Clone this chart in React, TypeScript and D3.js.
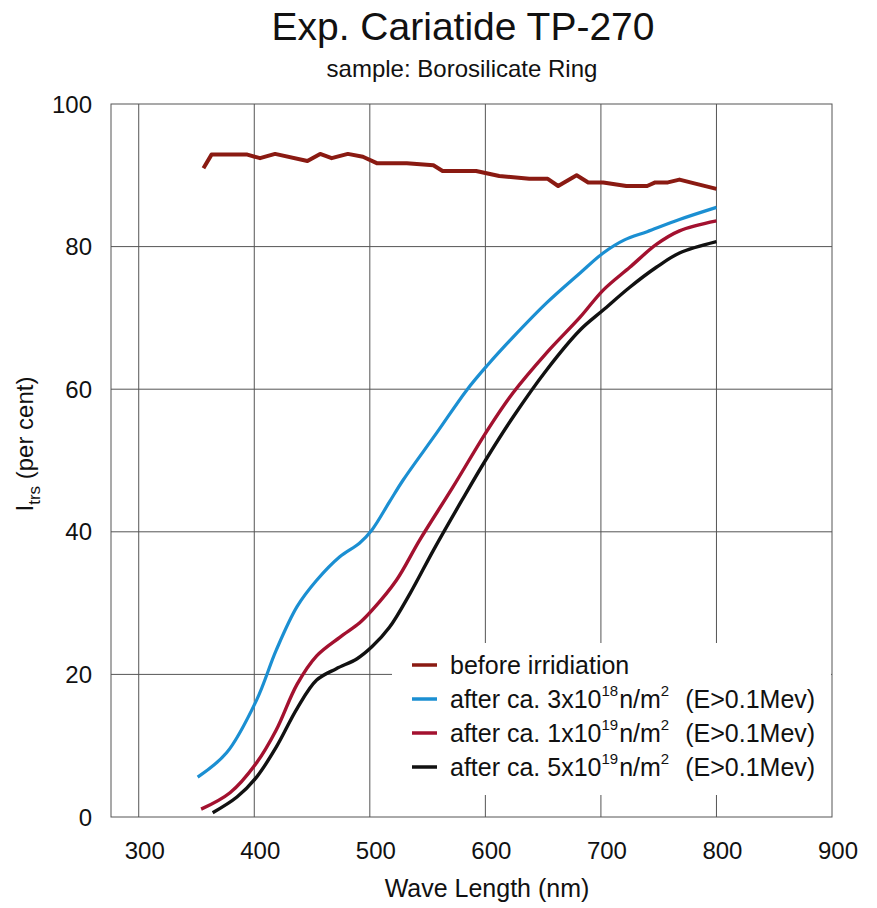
import React, { useEffect, useRef } from "react"
import * as d3 from "d3"

// wavelengths (nm) and transmission (%)
const beforeWave = [356, 363, 394, 405, 418, 446, 457, 467, 481, 494, 506, 532, 555, 563, 592, 612, 638, 654, 663, 679, 689, 702, 722, 740, 747, 758, 768, 780, 800]
const beforeVals = [91.0, 92.9, 92.9, 92.4, 93.0, 92.0, 93.0, 92.4, 93.0, 92.6, 91.7, 91.7, 91.4, 90.6, 90.6, 89.9, 89.5, 89.5, 88.5, 90.0, 89.0, 89.0, 88.5, 88.5, 89.0, 89.0, 89.4, 88.9, 88.1]

const dose18Wave = [351, 376, 402, 419, 437, 454, 474, 491, 502, 517, 529, 558, 584, 602, 624, 653, 682, 702, 720, 740, 768, 800]
const dose18Vals = [5.6, 9.0, 16.4, 23.4, 29.5, 33.2, 36.5, 38.4, 40.3, 44.2, 47.3, 53.9, 59.9, 63.4, 67.3, 72.1, 76.3, 79.1, 80.9, 82.1, 83.8, 85.5]

const dose19Wave = [354, 379, 402, 419, 437, 454, 474, 491, 502, 523, 543, 572, 602, 624, 653, 682, 702, 725, 748, 768, 800]
const dose19Vals = [1.1, 3.4, 7.6, 12.2, 18.6, 22.6, 25.2, 27.2, 29.0, 33.2, 38.8, 46.3, 54.3, 59.5, 65.1, 70.1, 73.9, 77.1, 80.3, 82.2, 83.6]

const dose5e19Wave = [364, 385, 402, 419, 437, 454, 471, 489, 502, 517, 535, 555, 580, 600, 624, 653, 682, 702, 725, 748, 768, 800]
const dose5e19Vals = [0.6, 2.8, 5.6, 9.8, 15.2, 19.2, 20.8, 22.2, 23.9, 26.6, 31.4, 37.4, 44.5, 50.0, 56.1, 62.7, 68.3, 71.1, 74.3, 77.1, 79.1, 80.7]

const xTicks = [300, 400, 500, 600, 700, 800, 900]
const yTicks = [0, 20, 40, 60, 80, 100]

const legendNames = ["before irridiation", "3x10|18", "1x10|19", "5x10|19"]
const legendColors = ["#8a1a12", "#1b8fd2", "#a3112f", "#111111"]

const W = 877, H = 908
const font = "'Liberation Sans', Arial, sans-serif"

export default function App() {
  const ref = useRef<SVGSVGElement>(null)

  useEffect(() => {
    const svg = d3.select(ref.current)
    svg.selectAll("*").remove()

    const x = d3.scaleLinear().domain([276, 900]).range([111, 832])
    const y = d3.scaleLinear().domain([0, 100]).range([817, 104])

    svg.append("rect").attr("width", W).attr("height", H).attr("fill", "#fff")

    // title
    svg.append("text").attr("x", 463).attr("y", 40).attr("text-anchor", "middle")
      .attr("font-size", 39).attr("font-family", font).attr("fill", "#111")
      .text("Exp. Cariatide TP-270")
    svg.append("text").attr("x", 462).attr("y", 77).attr("text-anchor", "middle")
      .attr("font-size", 24).attr("font-family", font).attr("fill", "#111")
      .text("sample: Borosilicate Ring")

    // grid
    const g = svg.append("g").attr("stroke", "#555").attr("stroke-width", 1).attr("fill", "none")
    xTicks.filter(d => d < 900).forEach(d => {
      g.append("line").attr("x1", x(d)).attr("x2", x(d)).attr("y1", y(100)).attr("y2", y(0))
    })
    yTicks.filter(d => d > 0 && d < 100).forEach(d => {
      g.append("line").attr("x1", x(276)).attr("x2", x(900)).attr("y1", y(d)).attr("y2", y(d))
    })
    g.append("rect").attr("x", x(276)).attr("y", y(100))
      .attr("width", x(900) - x(276)).attr("height", y(0) - y(100))

    // tick labels
    svg.append("g").selectAll("text").data(yTicks).join("text")
      .attr("x", 92).attr("y", d => y(d)).attr("dy", "0.36em").attr("text-anchor", "end")
      .attr("font-size", 24).attr("font-family", font).attr("fill", "#111")
      .text(d => d)
    svg.append("g").selectAll("text").data(xTicks).join("text")
      .attr("x", d => x(d) + 6).attr("y", 859).attr("text-anchor", "middle")
      .attr("font-size", 24).attr("font-family", font).attr("fill", "#111")
      .text(d => d)

    // axis titles
    svg.append("text").attr("x", 487).attr("y", 897).attr("text-anchor", "middle")
      .attr("font-size", 25).attr("font-family", font).attr("fill", "#111")
      .text("Wave Length (nm)")
    const yl = svg.append("text").attr("transform", "translate(33,444) rotate(-90)")
      .attr("text-anchor", "middle").attr("font-size", 24).attr("font-family", font).attr("fill", "#111")
    yl.append("tspan").text("I")
    yl.append("tspan").attr("font-size", 17).attr("dy", 7).text("trs")
    yl.append("tspan").attr("dy", -7).text(" (per cent)")

    // legend box (covers grid)
    svg.append("rect").attr("x", 392).attr("y", 643).attr("width", 439).attr("height", 152).attr("fill", "#fff")

    // curves
    const series = [
      { w: beforeWave, v: beforeVals, c: legendColors[0], sw: 4, curve: d3.curveLinear },
      { w: dose18Wave, v: dose18Vals, c: legendColors[1], sw: 3.2, curve: d3.curveCatmullRom },
      { w: dose19Wave, v: dose19Vals, c: legendColors[2], sw: 3.4, curve: d3.curveCatmullRom },
      { w: dose5e19Wave, v: dose5e19Vals, c: legendColors[3], sw: 3.4, curve: d3.curveCatmullRom },
    ]
    series.forEach(s => {
      const line = d3.line<number>().x(d => x(d)).y((d, i) => y(s.v[i])).curve(s.curve)
      svg.append("path").attr("d", line(s.w)).attr("fill", "none")
        .attr("stroke", s.c).attr("stroke-width", s.sw).attr("stroke-linejoin", "round")
    })

    // legend entries
    legendNames.forEach((name, i) => {
      const yy = 665 + i * 34
      svg.append("line").attr("x1", 412).attr("x2", 437).attr("y1", yy).attr("y2", yy)
        .attr("stroke", legendColors[i]).attr("stroke-width", 3.5)
      const t = svg.append("text").attr("x", 450).attr("y", yy).attr("dy", "0.35em")
        .attr("font-size", 25).attr("font-family", font).attr("fill", "#111")
      if (i === 0) { t.text(name); return }
      const [base, exp] = name.split("|")
      t.append("tspan").text("after ca. " + base)
      t.append("tspan").attr("font-size", 15).attr("dy", -12).text(exp)
      t.append("tspan").attr("dy", 12).attr("dx", 1).text("n/m")
      t.append("tspan").attr("font-size", 15).attr("dy", -12).text("2")
      t.append("tspan").attr("dy", 12).attr("dx", 16).text("(E>0.1Mev)")
    })
  }, [])

  return (
    <div style={{ position: "absolute", left: 0, top: 0 }}>
      <svg ref={ref} width={W} height={H} />
    </div>
  )
}
